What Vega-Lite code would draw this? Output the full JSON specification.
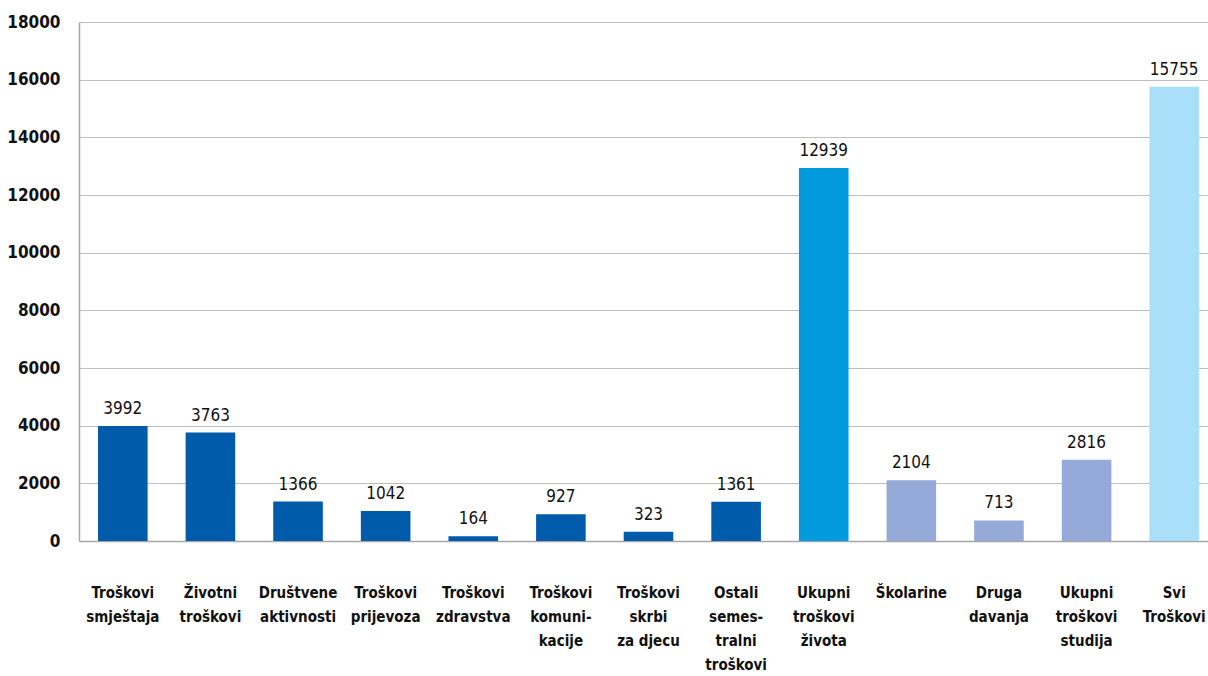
{
  "$schema": "https://vega.github.io/schema/vega-lite/v6.json",
  "autosize": {"type": "none"},
  "padding": {"left": 79, "top": 22, "right": 0, "bottom": 135},
  "width": 1139,
  "height": 519,
  "background": "white",
  "config": {
    "view": {"stroke": null},
    "font": "DejaVu Sans Condensed"
  },
  "data": {
    "values": [
      {"kategorija": "Troškovi|smještaja", "iznos": 3992, "grupa": "a"},
      {"kategorija": "Životni|troškovi", "iznos": 3763, "grupa": "a"},
      {"kategorija": "Društvene|aktivnosti", "iznos": 1366, "grupa": "a"},
      {"kategorija": "Troškovi|prijevoza", "iznos": 1042, "grupa": "a"},
      {"kategorija": "Troškovi|zdravstva", "iznos": 164, "grupa": "a"},
      {"kategorija": "Troškovi|komuni-|kacije", "iznos": 927, "grupa": "a"},
      {"kategorija": "Troškovi|skrbi|za djecu", "iznos": 323, "grupa": "a"},
      {"kategorija": "Ostali|semes-|tralni|troškovi", "iznos": 1361, "grupa": "a"},
      {"kategorija": "Ukupni|troškovi|života", "iznos": 12939, "grupa": "b"},
      {"kategorija": "Školarine", "iznos": 2104, "grupa": "c"},
      {"kategorija": "Druga|davanja", "iznos": 713, "grupa": "c"},
      {"kategorija": "Ukupni|troškovi|studija", "iznos": 2816, "grupa": "c"},
      {"kategorija": "Svi|Troškovi", "iznos": 15755, "grupa": "d"}
    ]
  },
  "encoding": {
    "x": {
      "field": "kategorija",
      "type": "nominal",
      "sort": null,
      "scale": {"paddingInner": 0.434, "paddingOuter": 0.217},
      "axis": {
        "title": null,
        "labelAngle": 0,
        "labelExpr": "split(datum.label, '|')",
        "labelFont": "DejaVu Sans Condensed",
        "labelFontSize": 15,
        "labelFontWeight": "bold",
        "labelColor": "#111111",
        "labelLineHeight": 24,
        "labelBaseline": "top",
        "labelPadding": 44,
        "labelLimit": 200,
        "ticks": false,
        "domainColor": "#A6A6A6",
        "domainWidth": 1.5
      }
    },
    "y": {
      "field": "iznos",
      "type": "quantitative",
      "scale": {"domain": [0, 18000], "nice": false},
      "axis": {
        "title": null,
        "values": [0, 2000, 4000, 6000, 8000, 10000, 12000, 14000, 16000, 18000],
        "format": "d",
        "labelFont": "DejaVu Sans Condensed",
        "labelFontSize": 17,
        "labelFontWeight": "bold",
        "labelColor": "#111111",
        "labelPadding": 19,
        "ticks": false,
        "domainColor": "#A6A6A6",
        "domainWidth": 1.5,
        "gridColor": "#BFBFBF",
        "gridWidth": 1.2
      }
    }
  },
  "layer": [
    {
      "mark": {"type": "bar"},
      "encoding": {
        "color": {
          "field": "grupa",
          "type": "nominal",
          "scale": {"domain": ["a", "b", "c", "d"], "range": ["#005BAA", "#009ADD", "#95AAD8", "#A9DFF9"]},
          "legend": null
        }
      }
    },
    {
      "mark": {"type": "text", "baseline": "bottom", "dy": -8, "font": "DejaVu Sans Condensed", "fontSize": 17, "color": "#111111"},
      "encoding": {
        "text": {"field": "iznos", "type": "quantitative", "format": "d"}
      }
    }
  ]
}
